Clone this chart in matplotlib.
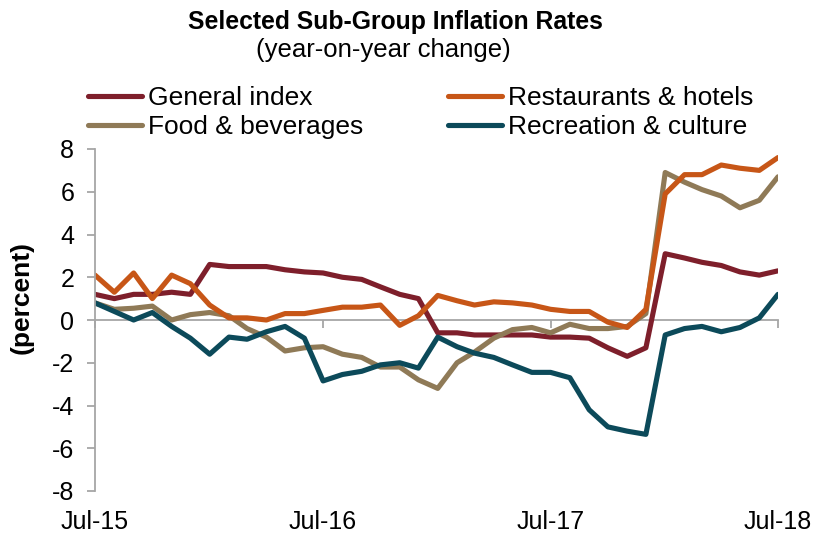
"""Selected sub-group inflation rates, Jul-15 to Jul-18 (year-on-year change)."""

import matplotlib

matplotlib.use("Agg")

import matplotlib.dates as mdates  # noqa: E402
import matplotlib.pyplot as plt  # noqa: E402
import pandas as pd  # noqa: E402

plt.rcParams["font.family"] = ["Liberation Sans", "DejaVu Sans"]
plt.rcParams["axes.unicode_minus"] = False

months = pd.date_range("2015-07-01", "2018-07-01", freq="MS")

general_index = [
    1.2, 1.0, 1.2, 1.2, 1.3, 1.2, 2.6, 2.5, 2.5, 2.5, 2.35, 2.25,
    2.2, 2.0, 1.9, 1.55, 1.2, 1.0, -0.6, -0.6, -0.7, -0.7, -0.7, -0.7,
    -0.8, -0.8, -0.85, -1.3, -1.7, -1.3, 3.1, 2.9, 2.7, 2.55, 2.25, 2.1,
    2.3,
]
restaurants_hotels = [
    2.1, 1.3, 2.2, 1.0, 2.1, 1.7, 0.7, 0.1, 0.1, 0.0, 0.3, 0.3,
    0.45, 0.6, 0.6, 0.7, -0.25, 0.2, 1.15, 0.9, 0.7, 0.85, 0.8, 0.7,
    0.5, 0.4, 0.4, -0.1, -0.35, 0.5, 5.9, 6.8, 6.8, 7.25, 7.1, 7.0,
    7.6,
]
food_beverages = [
    0.8, 0.5, 0.55, 0.65, 0.0, 0.25, 0.35, 0.2, -0.4, -0.8, -1.45, -1.3,
    -1.25, -1.6, -1.75, -2.2, -2.2, -2.8, -3.2, -2.0, -1.5, -0.85, -0.45, -0.35,
    -0.6, -0.2, -0.4, -0.4, -0.3, 0.3, 6.9, 6.45, 6.1, 5.8, 5.25, 5.6,
    6.7,
]
recreation_culture = [
    0.8, 0.4, 0.0, 0.35, -0.3, -0.85, -1.6, -0.8, -0.9, -0.55, -0.3, -0.85,
    -2.85, -2.55, -2.4, -2.1, -2.0, -2.25, -0.8, -1.25, -1.55, -1.75, -2.1, -2.45,
    -2.45, -2.7, -4.2, -5.0, -5.2, -5.35, -0.7, -0.4, -0.3, -0.55, -0.35, 0.1,
    1.2,
]

series = [
    ("General index", general_index, "#7E1F2B"),
    ("Food & beverages", food_beverages, "#8F7A57"),
    ("Restaurants & hotels", restaurants_hotels, "#C75617"),
    ("Recreation & culture", recreation_culture, "#0C4A5A"),
]

y_ticks = list(range(-8, 9, 2))
x_ticks = pd.to_datetime(["2015-07-01", "2016-07-01", "2017-07-01", "2018-07-01"])
axis_grey = "#A6A6A6"
W, H = 822, 536

fig = plt.figure(figsize=(W / 100, H / 100), dpi=100)
ax = fig.add_axes([95 / W, 1 - 491 / H, 683 / W, 342 / H])

lines = []
for label, values, color in series:
    (ln,) = ax.plot(months, values, color=color, lw=3.7, label=label,
                    solid_joinstyle="round", solid_capstyle="round")
    lines.append(ln)

ax.set_xlim(months[0], months[-1])
ax.set_ylim(-8, 8)
ax.set_yticks(y_ticks)

for side in ("top", "right"):
    ax.spines[side].set_visible(False)
ax.spines["left"].set_color(axis_grey)
ax.spines["left"].set_linewidth(1.3)
ax.spines["bottom"].set_position(("data", 0))
ax.spines["bottom"].set_color(axis_grey)
ax.spines["bottom"].set_linewidth(1.3)
ax.spines["bottom"].set_zorder(0)

ax.set_xticks(x_ticks)
ax.tick_params(axis="x", direction="out", length=6, width=1.3, color=axis_grey,
               labelbottom=False)
ax.tick_params(axis="y", direction="out", length=6, width=1.3, color=axis_grey,
               labelsize=18, pad=9)

sec = ax.secondary_xaxis("bottom")
sec.set_xticks(x_ticks)
sec.xaxis.set_major_formatter(mdates.DateFormatter("%b-%y"))
sec.tick_params(length=0, labelsize=18, pad=14)
sec.spines["bottom"].set_visible(False)

fig.text(22 / W, 1 - 297 / H, "(percent)", rotation=90, ha="center", va="center",
         fontsize=19, fontweight="bold")

fig.text(395 / W, 1 - 29 / H, "Selected Sub-Group Inflation Rates",
         ha="center", va="baseline", fontsize=17.8, fontweight="bold")
fig.text(383 / W, 1 - 57 / H, "(year-on-year change)",
         ha="center", va="baseline", fontsize=18.5)

fig.legend(handles=lines, ncol=2, loc="upper left",
           bbox_to_anchor=(88 / W, 1 - 86 / H), frameon=False,
           fontsize=19, handlelength=2.05, handletextpad=0.23,
           columnspacing=3.2, labelspacing=0.2, borderaxespad=0, borderpad=0)

fig.savefig("out.png", dpi=100)
